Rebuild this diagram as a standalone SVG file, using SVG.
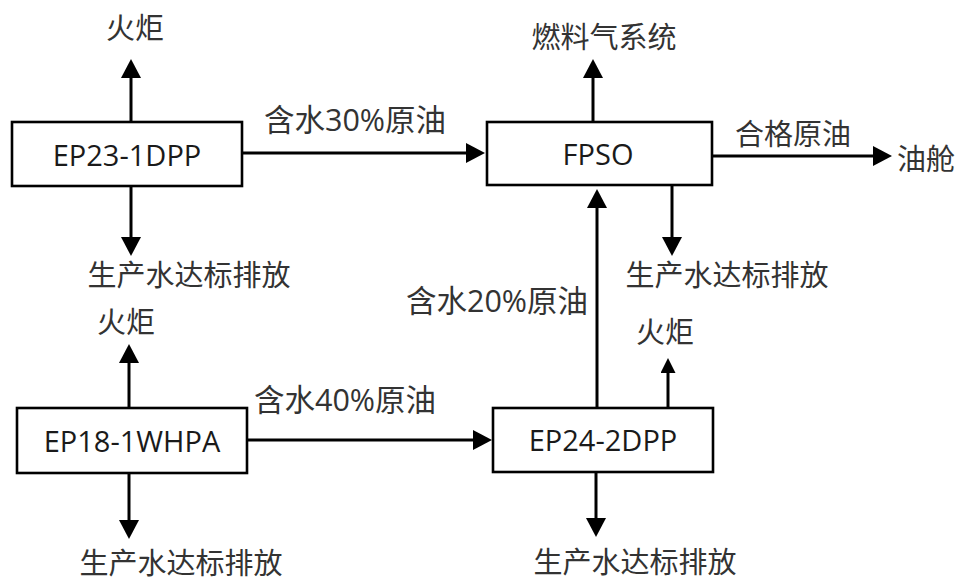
<svg xmlns="http://www.w3.org/2000/svg" width="957" height="581" viewBox="0 0 957 581">
<style>
.box{fill:#fff;stroke:#000;stroke-width:2.6}
.lbl{font-family:"Open Sans","Noto Sans CJK SC",sans-serif;font-size:29px;fill:#1a1a1a;text-anchor:middle}
.mx{font-family:"Open Sans","Noto Sans CJK SC",sans-serif;font-size:30.5px;fill:#333;text-anchor:middle}
.cn{font-family:"Noto Sans CJK SC",sans-serif;font-size:29px;fill:#333;text-anchor:middle}
.ln{stroke:#000;stroke-width:3;fill:none;marker-end:url(#ah)}
.ln2{stroke:#000;stroke-width:3;fill:none;marker-end:url(#ahs)}
</style>
<defs>
<marker id="ah" viewBox="0 0 19 20" markerWidth="19" markerHeight="20" refX="1" refY="10" orient="auto" markerUnits="userSpaceOnUse"><path d="M0,0 L19,10 L0,20 Z" fill="#000"/></marker>
<marker id="ahs" viewBox="0 0 15 15" markerWidth="15" markerHeight="15" refX="1" refY="7.5" orient="auto" markerUnits="userSpaceOnUse"><path d="M0,0 L15,7.5 L0,15 Z" fill="#000"/></marker>
</defs>
<rect width="957" height="581" fill="#fff"/>
<g id="connectors">
<line class="ln" x1="131" y1="122" x2="131" y2="77"/>
<line class="ln" x1="131" y1="186" x2="131" y2="238"/>
<line class="ln" x1="242" y1="153" x2="467" y2="153"/>
<line class="ln" x1="593" y1="122" x2="593" y2="77"/>
<line class="ln" x1="712" y1="156" x2="874" y2="156"/>
<line class="ln" x1="672" y1="185" x2="672" y2="238"/>
<line class="ln" x1="597" y1="408" x2="597" y2="207"/>
<line class="ln" x1="129" y1="408" x2="129" y2="362"/>
<line class="ln" x1="129" y1="473" x2="129" y2="521"/>
<line class="ln" x1="247" y1="440" x2="474" y2="440"/>
<line class="ln2" x1="668" y1="408" x2="668" y2="372"/>
<line class="ln" x1="596" y1="472" x2="596" y2="519"/>
</g>
<g id="n-ep23">
<rect class="box" x="12" y="122" width="230" height="64"/>
<text class="lbl" x="127" y="166">EP23-1DPP</text>
</g>
<g id="n-fpso">
<rect class="box" x="487" y="122" width="225" height="63"/>
<text class="lbl" x="598" y="165">FPSO</text>
</g>
<g id="n-ep18">
<rect class="box" x="17" y="408" width="230" height="65"/>
<text class="lbl" x="132" y="452">EP18-1WHPA</text>
</g>
<g id="n-ep24">
<rect class="box" x="493" y="408" width="220" height="64"/>
<text class="lbl" x="603" y="451">EP24-2DPP</text>
</g>
<g id="labels">
<text class="cn" x="135" y="39">火炬</text>
<text class="cn" x="189" y="286">生产水达标排放</text>
<text class="mx" x="355" y="131">含水30%原油</text>
<text class="cn" x="604" y="48">燃料气系统</text>
<text class="cn" x="793" y="145">合格原油</text>
<text class="cn" x="926" y="170">油舱</text>
<text class="cn" x="727" y="286">生产水达标排放</text>
<text class="mx" x="497" y="312">含水20%原油</text>
<text class="cn" x="126" y="333">火炬</text>
<text class="mx" x="345" y="411">含水40%原油</text>
<text class="cn" x="181" y="574">生产水达标排放</text>
<text class="cn" x="665" y="343">火炬</text>
<text class="cn" x="635" y="573">生产水达标排放</text>
</g>
</svg>
